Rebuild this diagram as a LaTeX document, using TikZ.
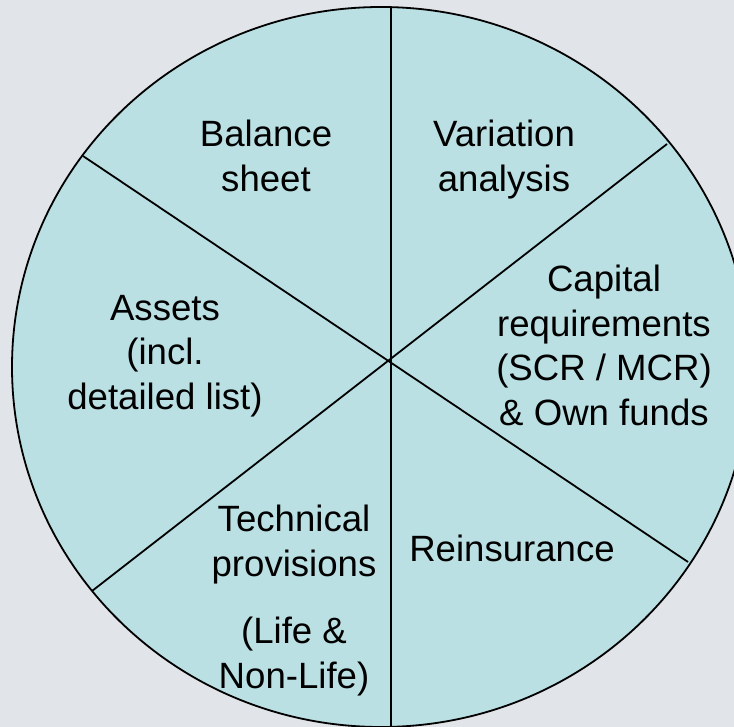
\documentclass[tikz,border=0pt]{standalone}
\usepackage{fontspec}
\setmainfont{Liberation Sans}
\definecolor{bgc}{RGB}{225,228,232}
\definecolor{piefill}{RGB}{186,224,227}
\begin{document}
\begin{tikzpicture}[x=1pt,y=-1pt,
  lbl/.style={font=\fontsize{36.6}{44.5}\selectfont, align=center, inner sep=0pt, anchor=north, execute at begin node=\strut},
  sep/.style={line width=1.8pt, black}]
\fill[bgc] (0,0) rectangle (734,727);
\useasboundingbox (0,0) rectangle (734,727);
\draw[line width=1.8pt, fill=piefill] (381,367) ellipse [x radius=369, y radius=360];
\coordinate (vt) at (391,7.2);
\coordinate (vb) at (391,726.5);
\coordinate (ul) at (83,156);
\coordinate (lr) at (688,562);
\coordinate (ll) at (92,591);
\coordinate (ur) at (667,144);
\draw[sep] (vt) -- (vb);
\draw[sep] (ul) -- (lr);
\draw[sep] (ll) -- (ur);
\node[lbl] (bal) at (266,151-31.15) {Balance\\sheet};
\node[lbl] (var) at (504,151-31.15) {Variation\\analysis};
\node[lbl] (cap) at (604,296-31.15) {Capital\\requirements\\(SCR / MCR)\\\& Own funds};
\node[lbl] (ass) at (165,326-31.15) {Assets\\(incl.\\detailed list)};
\node[lbl] (tec) at (294,536-31.15) {Technical\\provisions\\[23pt](Life \&\\Non-Life)};
\node[lbl] (rei) at (512,561-31.15) {Reinsurance};
\end{tikzpicture}
\end{document}
